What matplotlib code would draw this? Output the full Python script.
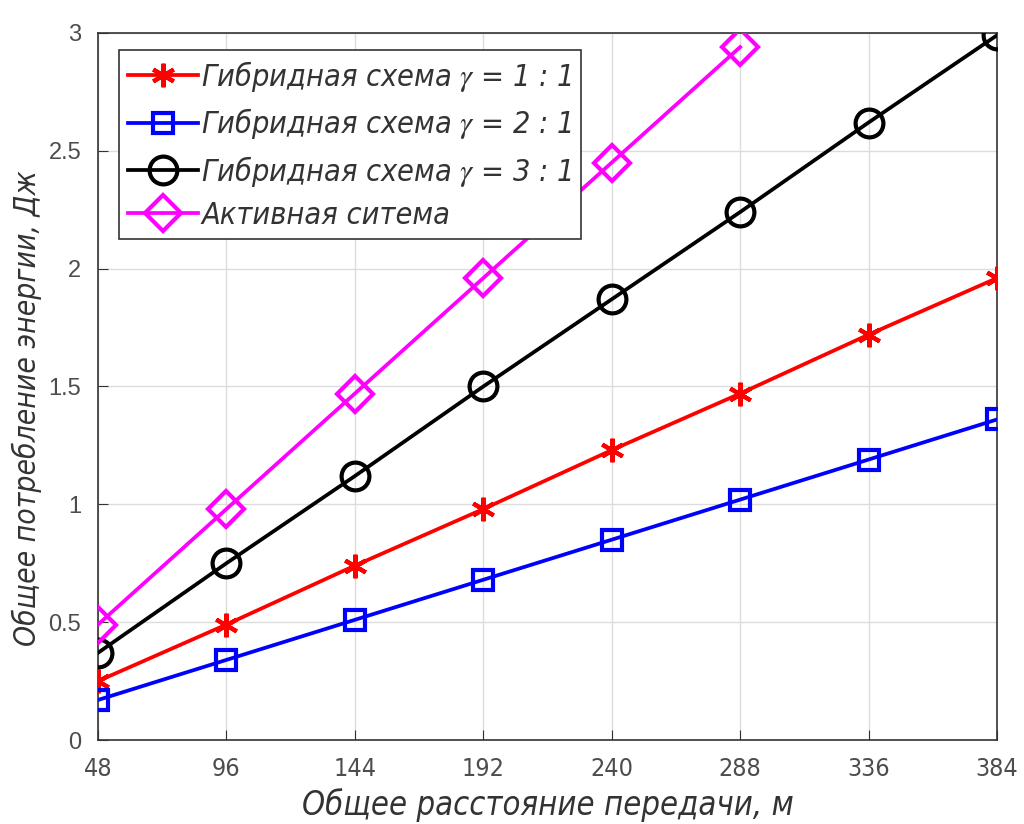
import numpy as np
import matplotlib
matplotlib.use("Agg")
from matplotlib import pyplot as plt
from matplotlib import font_manager

# distances, m
dist = [48, 96, 144, 192, 240, 288, 336, 384]
dist_active = [48, 96, 144, 192, 240, 288]

# total energy, J
hybrid_1_1 = [0.25, 0.49, 0.74, 0.98, 1.23, 1.47, 1.72, 1.96]
hybrid_2_1 = [0.17, 0.34, 0.51, 0.68, 0.85, 1.02, 1.19, 1.36]
hybrid_3_1 = [0.37, 0.75, 1.12, 1.50, 1.87, 2.24, 2.62, 2.99]
active = [0.49, 0.98, 1.47, 1.96, 2.45, 2.94]

labels = [r"Гибридная схема $\gamma$ = 1 : 1",
          r"Гибридная схема $\gamma$ = 2 : 1",
          r"Гибридная схема $\gamma$ = 3 : 1",
          "Активная ситема"]

xlabel = "Общее расстояние передачи, м"
ylabel = "Общее потребление энергии, Дж"

# pick a narrow face if one is around
fonts = font_manager.fontManager.ttflist
names = {f.name for f in fonts}
if "Liberation Sans Narrow" in names:
    narrow = dict(family=["Liberation Sans Narrow", "DejaVu Sans"])
elif any(f.name == "DejaVu Sans" and f.stretch == "condensed" for f in fonts):
    narrow = dict(family=["DejaVu Sans"], stretch="condensed")
else:
    narrow = dict(family=["DejaVu Sans"])
plt.rcParams["mathtext.fontset"] = "stix"

fig = plt.figure(figsize=(10.24, 8.24), dpi=100)
ax = fig.add_axes([0.0957, 0.1019, 0.8779, 0.8581])

ax.plot(dist, hybrid_1_1, color="#ff0000", lw=2.7, marker=(6, 2, 0), ms=17, mew=3,
        label=labels[0], zorder=3)
ax.plot(dist, hybrid_2_1, color="#0000ff", lw=2.7, marker="s", ms=15, mew=3,
        mfc="none", label=labels[1], zorder=3)
ax.plot(dist, hybrid_3_1, color="#000000", lw=2.7, marker="o", ms=20, mew=3,
        mfc="none", label=labels[2], zorder=3)
ax.plot(dist_active, active, color="#ff00ff", lw=2.7, marker="D", ms=18, mew=3,
        mfc="none", label=labels[3], zorder=3)

ax.set_xlim(48, 384)
ax.set_ylim(0, 3)
ax.set_xticks(dist)
ax.set_yticks([0, 0.5, 1, 1.5, 2, 2.5, 3])
ax.set_yticklabels(["0", "0.5", "1", "1.5", "2", "2.5", "3"])
ax.grid(True, color="#dcdcdc", lw=1.0)
ax.set_axisbelow(True)
for s in ax.spines.values():
    s.set_color("#333333")
    s.set_linewidth(1.2)
ax.tick_params(direction="in", length=7, color="#333333", labelcolor="#4d4d4d")
ax.tick_params(axis="y", pad=12)
for t in ax.get_yticklabels():
    t.set_family(["Liberation Sans", "DejaVu Sans"])
    t.set_fontsize(17)
for t in ax.get_xticklabels():
    t.set_fontproperties(font_manager.FontProperties(size=18, **narrow))
ax.tick_params(axis="x", pad=12)

ax.set_xlabel(xlabel, fontproperties=font_manager.FontProperties(
    style="italic", size=23.5, **narrow), color="#333333", labelpad=5)
ax.set_ylabel(ylabel, fontproperties=font_manager.FontProperties(
    style="italic", size=21.5, **narrow), color="#333333")
ax.yaxis.set_label_coords(-0.062, 0.47)

leg = ax.legend(loc="upper left", bbox_to_anchor=(0.023, 0.976), borderaxespad=0,
                prop=font_manager.FontProperties(style="italic", size=22, **narrow),
                handlelength=2.3, handletextpad=0.1, labelspacing=0.4,
                fancybox=False, framealpha=1, edgecolor="#333333", borderpad=0.3)
leg.get_frame().set_linewidth(1.2)
for t in leg.get_texts():
    t.set_color("#333333")

fig.savefig("out.png", dpi=100)
